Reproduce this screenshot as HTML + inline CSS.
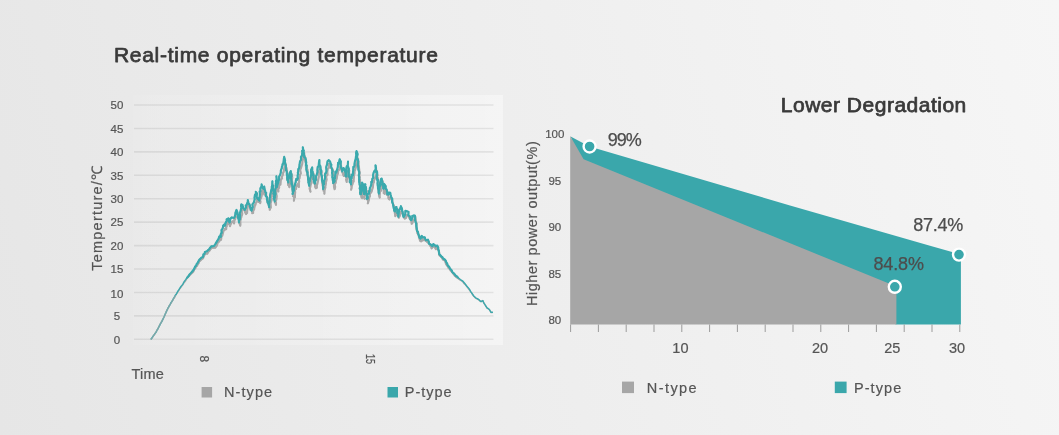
<!DOCTYPE html>
<html lang="en">
<head>
<meta charset="utf-8">
<title>Real-time operating temperature / Lower Degradation</title>
<style>
html,body{margin:0;padding:0;}
body{width:1059px;height:435px;overflow:hidden;background:linear-gradient(75deg,#e6e6e6 0%,#f6f6f6 100%);font-family:"Liberation Sans",sans-serif;}
svg{display:block;font-family:"Liberation Sans",sans-serif;}
.t{font-size:21px;fill:#3a3a3a;stroke:#3a3a3a;stroke-width:0.75px;stroke-linejoin:round;}
.ax{font-size:11.5px;fill:#555;stroke:#555;stroke-width:0.2px;}
.lb{font-size:14.5px;fill:#555;stroke:#555;stroke-width:0.2px;}
.val{font-size:18px;fill:#4d4d4d;stroke:#4d4d4d;stroke-width:0.25px;}
</style>
</head>
<body>
<svg width="1059" height="435" viewBox="0 0 1059 435">
<defs>
<linearGradient id="pb" x1="0" x2="1" y1="0" y2="0">
<stop offset="0" stop-color="#ffffff" stop-opacity="0.06"/>
<stop offset="0.5" stop-color="#ffffff" stop-opacity="0.22"/>
<stop offset="1" stop-color="#ffffff" stop-opacity="0.4"/>
</linearGradient>
</defs>
<!-- left chart -->
<rect x="133" y="95" width="370" height="250" fill="url(#pb)"/>
<text class="t" x="113.9" y="62.4" textLength="324" lengthAdjust="spacing">Real-time operating temperature</text>
<g stroke="#000000" stroke-opacity="0.075" stroke-width="1.6"><line x1="134" x2="493.5" y1="105.0" y2="105.0"/><line x1="134" x2="493.5" y1="128.43" y2="128.43"/><line x1="134" x2="493.5" y1="151.86" y2="151.86"/><line x1="134" x2="493.5" y1="175.29" y2="175.29"/><line x1="134" x2="493.5" y1="198.72" y2="198.72"/><line x1="134" x2="493.5" y1="222.15" y2="222.15"/><line x1="134" x2="493.5" y1="245.57999999999998" y2="245.57999999999998"/><line x1="134" x2="493.5" y1="269.01" y2="269.01"/><line x1="134" x2="493.5" y1="292.44" y2="292.44"/><line x1="134" x2="493.5" y1="315.87" y2="315.87"/><line x1="134" x2="493.5" y1="339.3" y2="339.3"/></g>
<g class="ax"><text x="117" y="109.2" text-anchor="middle">50</text><text x="117" y="132.6" text-anchor="middle">45</text><text x="117" y="156.1" text-anchor="middle">40</text><text x="117" y="179.5" text-anchor="middle">35</text><text x="117" y="202.9" text-anchor="middle">30</text><text x="117" y="226.3" text-anchor="middle">25</text><text x="117" y="249.8" text-anchor="middle">20</text><text x="117" y="273.2" text-anchor="middle">15</text><text x="117" y="298.1" text-anchor="middle">10</text><text x="117" y="320.1" text-anchor="middle">5</text><text x="117" y="343.5" text-anchor="middle">0</text></g>
<text class="lb" transform="translate(102.3,270.7) rotate(-90)" textLength="104.7" lengthAdjust="spacing">Temperture/℃</text>
<g fill="none" stroke-linejoin="round" stroke-linecap="round">
<polyline stroke="#a9a9a9" stroke-width="1.4" points="151.2,339.0 152.1,337.8 152.9,336.6 153.7,335.3 154.7,334.3 155.4,332.8 156.1,331.8 157.0,330.1 157.7,329.3 158.4,327.9 159.0,326.3 159.8,325.0 160.5,323.7 161.2,322.4 161.9,321.1 162.7,319.6 163.4,318.2 164.1,316.6 164.8,315.6 165.4,314.1 165.9,312.6 166.5,311.1 167.2,310.0 167.8,308.6 168.5,307.5 169.2,305.8 170.2,304.5 171.1,303.0 171.8,301.7 172.8,300.1 173.5,298.7 174.5,297.5 175.3,295.8 176.1,294.4 177.1,293.0 177.9,291.7 178.7,290.5 179.6,289.2 180.5,287.8 181.4,286.5 182.3,285.5 183.1,284.3 183.9,282.8 184.9,281.7 185.6,280.8 186.5,279.1 187.5,278.0 188.2,276.6 189.1,275.9 190.0,274.9 191.0,273.8 192.4,272.4 193.4,271.4 194.1,269.3 195.3,268.5 195.9,266.4 196.9,266.0 197.5,264.8 198.6,263.1 199.2,261.2 199.8,261.1 201.4,259.5 202.9,258.5 203.8,256.3 204.3,255.5 204.9,253.3 207.2,253.8 208.4,251.7 209.7,250.5 210.1,249.6 211.4,248.2 212.1,247.7 214.4,247.7 215.1,247.8 216.5,246.1 217.2,244.6 217.7,242.1 218.3,242.4 219.5,241.0 219.7,238.7 221.0,239.9 221.2,238.9 221.4,236.4 222.3,235.7 222.7,233.7 223.1,232.7 223.4,230.9 224.6,230.1 224.8,228.7 226.2,229.1 226.3,227.1 226.7,226.2 226.5,224.8 227.8,224.0 227.9,221.2 229.2,222.5 229.6,224.8 230.0,226.2 230.6,224.4 231.8,221.9 232.7,221.3 234.1,223.4 234.4,219.2 235.1,219.6 235.7,216.5 237.4,216.3 237.7,215.4 238.0,216.1 238.3,216.8 239.3,219.7 239.7,219.7 239.6,221.0 239.4,223.1 240.3,225.7 240.4,224.5 240.3,220.7 240.7,219.5 240.7,218.4 241.4,217.1 241.3,216.7 242.3,214.0 241.6,211.1 242.8,209.6 242.9,209.7 242.8,208.8 243.0,208.1 243.9,209.0 244.9,211.0 244.8,211.6 246.1,214.1 246.5,213.4 247.1,213.0 247.3,209.3 247.5,207.9 247.4,207.3 248.7,204.9 248.6,204.0 249.7,206.0 250.1,208.2 250.4,209.8 251.7,209.1 252.4,212.6 252.2,213.2 253.1,213.0 253.2,210.4 254.1,209.5 254.5,206.8 254.7,204.7 255.2,205.4 255.7,203.8 255.6,202.9 256.9,201.6 256.8,199.6 257.0,198.5 258.0,198.1 257.6,199.7 258.6,202.0 259.2,201.3 260.2,203.1 260.5,201.8 260.2,202.1 260.2,198.4 260.8,198.6 261.4,196.9 261.8,194.8 262.2,192.2 261.7,192.1 262.1,191.3 262.9,189.3 263.5,190.8 263.4,191.6 264.4,194.6 264.7,193.0 266.0,193.4 266.0,193.9 266.4,196.3 266.9,196.5 267.7,199.7 267.5,202.3 268.1,203.0 268.7,203.4 269.0,206.2 270.0,209.4 269.7,209.7 269.8,207.9 270.8,207.7 270.6,204.3 270.5,203.5 271.5,200.4 271.6,198.4 271.2,197.4 271.9,196.2 271.8,195.7 271.8,194.6 272.0,192.4 272.4,190.0 273.0,189.3 273.0,187.8 273.4,185.5 273.3,188.4 273.9,189.6 274.3,191.3 274.5,191.6 274.6,194.8 275.0,194.7 274.5,198.2 274.6,200.1 275.5,199.0 274.9,202.5 275.1,202.1 276.0,204.8 276.0,202.3 275.7,202.4 275.4,199.4 276.3,200.0 276.7,195.9 276.3,196.4 276.4,194.5 276.2,191.1 276.2,189.5 276.8,189.5 277.0,186.9 276.7,185.6 277.5,186.6 277.7,182.3 276.9,183.5 277.5,184.6 277.5,185.3 277.9,186.9 278.2,187.3 278.4,191.5 278.2,189.0 279.2,187.6 279.0,185.5 279.6,183.6 280.4,184.6 280.5,183.3 280.7,180.4 281.2,179.1 282.1,178.5 281.7,177.2 282.7,175.1 283.2,172.4 283.6,172.2 283.9,170.4 284.5,167.8 284.9,165.2 285.0,164.8 285.1,162.8 286.0,165.3 285.8,168.0 286.5,167.9 286.8,170.3 286.8,171.2 287.5,173.4 287.3,175.2 287.8,174.4 287.6,178.1 287.3,178.5 287.4,179.5 288.0,180.8 288.1,185.0 288.7,185.3 289.4,187.2 289.8,185.8 289.9,182.5 290.1,183.1 289.8,182.1 290.4,179.1 290.9,177.7 291.8,174.8 292.3,177.6 292.0,179.7 292.0,180.4 292.4,182.9 292.2,185.0 292.3,184.4 292.4,186.1 292.5,189.8 292.9,191.7 293.4,190.6 293.8,194.8 293.0,196.2 293.5,196.4 294.3,197.1 293.9,200.7 294.4,197.7 295.0,197.2 294.9,193.4 295.2,192.9 295.0,190.0 295.7,188.8 296.0,189.1 296.4,186.4 296.9,185.4 297.5,184.3 298.9,187.0 298.8,183.3 298.3,183.9 299.2,181.6 298.9,179.1 299.5,178.5 299.6,177.3 300.1,174.3 299.8,175.2 300.8,173.4 300.1,169.3 300.6,168.9 301.4,166.6 301.7,165.2 301.5,165.8 302.3,163.9 302.4,161.7 302.4,159.6 303.3,159.5 302.9,155.7 304.0,155.8 304.3,153.0 304.2,154.8 305.0,156.8 305.2,160.4 305.2,160.7 306.0,163.5 306.0,163.4 305.9,166.7 306.1,165.7 306.9,168.4 307.3,169.4 307.6,170.2 307.2,173.5 307.2,174.0 308.2,176.8 307.9,176.7 308.2,180.1 308.4,179.9 309.0,182.9 309.5,185.6 309.7,185.6 309.9,186.7 309.6,188.6 310.5,191.7 309.9,188.6 310.3,187.1 310.5,185.7 310.5,184.8 311.4,183.3 311.7,181.9 311.2,180.9 312.3,177.7 311.7,176.8 312.5,175.3 313.3,173.9 313.5,173.6 313.7,177.3 313.5,176.5 314.5,180.8 314.0,181.6 314.4,183.7 315.2,183.8 315.1,186.8 315.8,188.2 316.0,188.2 316.9,187.6 316.7,185.6 317.2,184.6 317.7,182.1 317.9,181.3 318.2,180.1 318.4,178.8 318.8,176.5 318.6,175.2 319.1,172.7 319.1,170.2 319.8,171.2 319.7,167.0 319.9,166.1 320.3,169.5 320.4,169.1 320.7,171.8 321.8,172.0 321.2,174.4 322.0,177.3 321.5,176.3 321.9,178.2 322.1,181.3 322.7,181.3 322.4,183.0 322.7,185.9 323.1,186.7 323.9,187.9 323.5,190.6 324.5,190.4 324.4,193.7 324.5,190.0 324.3,190.8 325.4,187.6 325.3,186.6 325.3,186.6 326.0,182.8 325.5,182.1 326.1,181.7 326.6,179.6 326.2,176.8 326.6,175.6 327.4,175.0 327.5,174.7 327.3,171.6 327.5,170.7 327.6,169.1 329.2,167.3 328.9,163.8 330.3,165.1 330.8,168.0 332.7,169.4 332.8,170.1 332.9,172.1 333.2,172.7 333.3,174.7 333.2,177.3 332.9,179.8 333.3,179.7 333.3,181.2 333.9,184.0 334.0,185.4 333.9,186.0 334.6,189.3 335.2,186.9 334.6,184.6 335.7,182.8 335.8,182.0 335.5,182.3 336.7,178.4 336.9,177.2 337.0,176.5 337.3,174.4 337.9,173.8 338.2,170.7 339.3,169.5 339.9,168.9 340.2,166.8 340.7,164.6 340.4,163.3 341.3,166.8 341.0,167.5 342.1,169.7 341.5,170.2 342.0,171.6 342.7,173.1 343.7,176.0 343.6,175.0 344.3,174.0 344.9,172.1 345.2,172.5 345.6,176.1 346.5,177.8 346.5,178.7 346.1,179.4 346.7,182.0 346.6,179.6 347.3,179.4 347.8,177.3 347.2,176.3 348.3,174.1 347.9,172.5 347.8,171.7 349.0,169.6 348.9,169.2 348.6,171.2 349.3,170.6 349.0,172.4 349.8,175.5 349.7,177.8 349.9,177.9 349.8,181.0 350.0,182.4 350.6,182.9 350.9,183.5 351.5,187.2 351.6,187.5 351.1,189.7 351.5,188.5 351.7,186.1 352.7,183.5 352.6,181.8 352.3,180.7 353.6,181.6 353.6,178.2 353.9,178.1 353.9,176.2 354.6,172.9 354.3,173.0 354.5,171.4 355.3,169.4 355.5,168.4 355.9,166.9 356.3,164.3 356.6,162.9 357.2,162.6 357.0,160.5 357.6,159.9 358.1,158.6 358.0,160.8 358.6,161.9 358.3,162.0 358.7,165.0 358.8,165.3 358.9,168.0 358.9,166.9 359.4,171.0 359.6,171.6 359.7,172.2 359.7,173.0 359.3,175.7 359.8,177.1 359.4,179.6 360.1,179.8 359.9,181.9 360.0,182.4 360.8,186.8 360.7,188.1 360.5,189.5 360.4,190.7 361.0,192.7 360.6,193.8 360.8,194.5 361.9,194.2 361.3,196.6 361.5,197.3 362.3,198.2 361.9,195.3 362.3,192.9 361.9,194.1 362.4,191.4 363.4,191.6 363.1,187.9 363.2,188.9 364.1,188.2 364.2,190.3 364.1,191.4 364.8,195.6 364.2,196.2 364.5,198.7 364.5,194.8 365.4,193.9 365.8,194.1 365.7,190.3 366.0,191.3 366.0,187.2 366.0,189.6 366.8,191.0 366.4,192.8 367.2,196.2 367.1,197.3 367.8,198.6 367.3,199.2 368.3,201.9 367.8,203.3 368.0,202.8 368.8,199.9 369.3,196.8 369.8,196.3 369.8,196.6 370.0,193.7 371.4,192.0 371.5,191.4 371.7,191.1 372.9,187.0 372.6,187.8 372.9,186.9 373.3,182.9 373.8,182.6 373.9,181.0 374.7,178.9 375.0,178.4 375.7,176.0 376.4,173.4 376.7,172.0 376.9,170.8 377.0,174.0 377.6,175.6 377.2,176.2 377.4,178.1 377.9,178.0 378.2,181.7 378.4,183.7 378.1,183.1 378.1,185.6 378.7,186.9 378.6,189.4 378.5,191.2 379.2,191.6 379.6,192.1 379.0,193.9 379.0,195.4 379.7,197.6 379.6,196.2 379.6,195.3 380.0,191.9 380.2,191.7 381.2,190.4 380.6,187.8 381.2,185.7 382.2,183.7 381.9,184.5 382.7,181.2 382.5,184.8 382.4,185.0 383.7,186.4 383.5,188.3 383.8,189.0 383.7,193.2 384.8,193.8 384.6,190.5 385.5,188.7 386.4,191.8 386.7,191.6 387.8,194.0 387.2,195.0 388.3,195.2 388.5,198.5 389.5,199.5 390.2,197.6 390.4,197.3 391.1,198.2 391.6,197.9 391.9,200.0 392.2,200.3 392.6,202.5 393.0,203.9 394.1,206.3 394.4,206.5 394.2,207.8 394.9,210.4 394.7,210.7 394.8,212.8 395.3,216.2 395.8,215.5 395.7,213.7 396.7,212.9 396.8,212.5 397.9,209.4 397.5,211.8 397.5,214.6 398.1,215.5 398.7,214.7 398.8,216.7 398.8,217.8 399.8,215.7 399.9,215.2 400.5,212.6 401.3,211.2 402.0,210.6 401.8,210.7 402.5,213.8 403.1,214.3 404.1,215.5 404.0,217.5 404.5,218.3 404.8,218.7 406.0,217.9 407.0,215.0 408.7,215.8 408.8,216.7 409.9,219.1 410.7,218.6 411.1,219.8 411.5,222.2 411.7,223.8 412.5,222.9 413.0,220.6 413.7,220.3 414.3,219.7 415.2,216.8 415.6,219.5 415.7,221.7 416.5,223.3 416.7,223.3 416.5,225.7 416.3,227.2 416.4,228.9 417.2,230.3 417.3,231.2 417.3,233.0 418.8,235.1 418.9,236.9 419.3,238.1 420.1,240.8 421.1,241.4 422.1,240.7 422.5,239.1 423.5,240.1 424.9,240.1 426.1,240.8 426.8,241.7 428.2,242.6 428.9,243.5 430.0,244.2 430.0,245.5 431.2,246.7 431.6,248.4 432.8,246.7 433.9,246.3 434.9,247.5 435.9,249.1 437.2,247.5 437.8,247.9 438.2,249.4 438.9,251.2 439.3,252.9 439.0,254.0 439.4,255.3 441.0,256.3 441.9,257.8 442.3,258.5 442.9,259.5 444.9,260.6 445.4,261.9 446.1,264.2 446.8,265.2 448.0,266.5 448.7,268.3 449.8,268.7 450.5,270.4 451.7,271.6 452.6,272.8 453.6,274.0 454.6,275.4 455.8,276.6 456.8,277.3 458.0,278.4 459.1,279.5 460.2,280.2 461.7,281.0 462.9,281.9 464.0,283.6 465.1,284.3 466.0,285.6 467.0,286.8 468.1,288.3 468.9,289.4 469.8,290.3 470.6,291.9 471.6,292.8 472.2,293.9 473.0,295.3 473.8,296.3 475.0,297.6 476.0,298.3 477.4,299.2 478.8,299.8 479.9,300.9 481.1,301.7 482.7,300.9 483.5,302.2 484.1,303.3 484.8,304.5 485.6,305.8 486.4,307.0 487.1,308.2 488.3,308.8 489.4,309.5 490.3,311.1 490.9,312.5 492.4,312.5"/>
<polyline stroke="#a9a9a9" stroke-width="2.1" points="188.2,276.6 189.1,275.9 190.0,274.9 191.0,273.8 192.4,272.4 193.4,271.4 194.1,269.3 195.3,268.5 195.9,266.4 196.9,266.0 197.5,264.8 198.6,263.1 199.2,261.2 199.8,261.1 201.4,259.5 202.9,258.5 203.8,256.3 204.3,255.5 204.9,253.3 207.2,253.8 208.4,251.7 209.7,250.5 210.1,249.6 211.4,248.2 212.1,247.7 214.4,247.7 215.1,247.8 216.5,246.1 217.2,244.6 217.7,242.1 218.3,242.4 219.5,241.0 219.7,238.7 221.0,239.9 221.2,238.9 221.4,236.4 222.3,235.7 222.7,233.7 223.1,232.7 223.4,230.9 224.6,230.1 224.8,228.7 226.2,229.1 226.3,227.1 226.7,226.2 226.5,224.8 227.8,224.0 227.9,221.2 229.2,222.5 229.6,224.8 230.0,226.2 230.6,224.4 231.8,221.9 232.7,221.3 234.1,223.4 234.4,219.2 235.1,219.6 235.7,216.5 237.4,216.3 237.7,215.4 238.0,216.1 238.3,216.8 239.3,219.7 239.7,219.7 239.6,221.0 239.4,223.1 240.3,225.7 240.4,224.5 240.3,220.7 240.7,219.5 240.7,218.4 241.4,217.1 241.3,216.7 242.3,214.0 241.6,211.1 242.8,209.6 242.9,209.7 242.8,208.8 243.0,208.1 243.9,209.0 244.9,211.0 244.8,211.6 246.1,214.1 246.5,213.4 247.1,213.0 247.3,209.3 247.5,207.9 247.4,207.3 248.7,204.9 248.6,204.0 249.7,206.0 250.1,208.2 250.4,209.8 251.7,209.1 252.4,212.6 252.2,213.2 253.1,213.0 253.2,210.4 254.1,209.5 254.5,206.8 254.7,204.7 255.2,205.4 255.7,203.8 255.6,202.9 256.9,201.6 256.8,199.6 257.0,198.5 258.0,198.1 257.6,199.7 258.6,202.0 259.2,201.3 260.2,203.1 260.5,201.8 260.2,202.1 260.2,198.4 260.8,198.6 261.4,196.9 261.8,194.8 262.2,192.2 261.7,192.1 262.1,191.3 262.9,189.3 263.5,190.8 263.4,191.6 264.4,194.6 264.7,193.0 266.0,193.4 266.0,193.9 266.4,196.3 266.9,196.5 267.7,199.7 267.5,202.3 268.1,203.0 268.7,203.4 269.0,206.2 270.0,209.4 269.7,209.7 269.8,207.9 270.8,207.7 270.6,204.3 270.5,203.5 271.5,200.4 271.6,198.4 271.2,197.4 271.9,196.2 271.8,195.7 271.8,194.6 272.0,192.4 272.4,190.0 273.0,189.3 273.0,187.8 273.4,185.5 273.3,188.4 273.9,189.6 274.3,191.3 274.5,191.6 274.6,194.8 275.0,194.7 274.5,198.2 274.6,200.1 275.5,199.0 274.9,202.5 275.1,202.1 276.0,204.8 276.0,202.3 275.7,202.4 275.4,199.4 276.3,200.0 276.7,195.9 276.3,196.4 276.4,194.5 276.2,191.1 276.2,189.5 276.8,189.5 277.0,186.9 276.7,185.6 277.5,186.6 277.7,182.3 276.9,183.5 277.5,184.6 277.5,185.3 277.9,186.9 278.2,187.3 278.4,191.5 278.2,189.0 279.2,187.6 279.0,185.5 279.6,183.6 280.4,184.6 280.5,183.3 280.7,180.4 281.2,179.1 282.1,178.5 281.7,177.2 282.7,175.1 283.2,172.4 283.6,172.2 283.9,170.4 284.5,167.8 284.9,165.2 285.0,164.8 285.1,162.8 286.0,165.3 285.8,168.0 286.5,167.9 286.8,170.3 286.8,171.2 287.5,173.4 287.3,175.2 287.8,174.4 287.6,178.1 287.3,178.5 287.4,179.5 288.0,180.8 288.1,185.0 288.7,185.3 289.4,187.2 289.8,185.8 289.9,182.5 290.1,183.1 289.8,182.1 290.4,179.1 290.9,177.7 291.8,174.8 292.3,177.6 292.0,179.7 292.0,180.4 292.4,182.9 292.2,185.0 292.3,184.4 292.4,186.1 292.5,189.8 292.9,191.7 293.4,190.6 293.8,194.8 293.0,196.2 293.5,196.4 294.3,197.1 293.9,200.7 294.4,197.7 295.0,197.2 294.9,193.4 295.2,192.9 295.0,190.0 295.7,188.8 296.0,189.1 296.4,186.4 296.9,185.4 297.5,184.3 298.9,187.0 298.8,183.3 298.3,183.9 299.2,181.6 298.9,179.1 299.5,178.5 299.6,177.3 300.1,174.3 299.8,175.2 300.8,173.4 300.1,169.3 300.6,168.9 301.4,166.6 301.7,165.2 301.5,165.8 302.3,163.9 302.4,161.7 302.4,159.6 303.3,159.5 302.9,155.7 304.0,155.8 304.3,153.0 304.2,154.8 305.0,156.8 305.2,160.4 305.2,160.7 306.0,163.5 306.0,163.4 305.9,166.7 306.1,165.7 306.9,168.4 307.3,169.4 307.6,170.2 307.2,173.5 307.2,174.0 308.2,176.8 307.9,176.7 308.2,180.1 308.4,179.9 309.0,182.9 309.5,185.6 309.7,185.6 309.9,186.7 309.6,188.6 310.5,191.7 309.9,188.6 310.3,187.1 310.5,185.7 310.5,184.8 311.4,183.3 311.7,181.9 311.2,180.9 312.3,177.7 311.7,176.8 312.5,175.3 313.3,173.9 313.5,173.6 313.7,177.3 313.5,176.5 314.5,180.8 314.0,181.6 314.4,183.7 315.2,183.8 315.1,186.8 315.8,188.2 316.0,188.2 316.9,187.6 316.7,185.6 317.2,184.6 317.7,182.1 317.9,181.3 318.2,180.1 318.4,178.8 318.8,176.5 318.6,175.2 319.1,172.7 319.1,170.2 319.8,171.2 319.7,167.0 319.9,166.1 320.3,169.5 320.4,169.1 320.7,171.8 321.8,172.0 321.2,174.4 322.0,177.3 321.5,176.3 321.9,178.2 322.1,181.3 322.7,181.3 322.4,183.0 322.7,185.9 323.1,186.7 323.9,187.9 323.5,190.6 324.5,190.4 324.4,193.7 324.5,190.0 324.3,190.8 325.4,187.6 325.3,186.6 325.3,186.6 326.0,182.8 325.5,182.1 326.1,181.7 326.6,179.6 326.2,176.8 326.6,175.6 327.4,175.0 327.5,174.7 327.3,171.6 327.5,170.7 327.6,169.1 329.2,167.3 328.9,163.8 330.3,165.1 330.8,168.0 332.7,169.4 332.8,170.1 332.9,172.1 333.2,172.7 333.3,174.7 333.2,177.3 332.9,179.8 333.3,179.7 333.3,181.2 333.9,184.0 334.0,185.4 333.9,186.0 334.6,189.3 335.2,186.9 334.6,184.6 335.7,182.8 335.8,182.0 335.5,182.3 336.7,178.4 336.9,177.2 337.0,176.5 337.3,174.4 337.9,173.8 338.2,170.7 339.3,169.5 339.9,168.9 340.2,166.8 340.7,164.6 340.4,163.3 341.3,166.8 341.0,167.5 342.1,169.7 341.5,170.2 342.0,171.6 342.7,173.1 343.7,176.0 343.6,175.0 344.3,174.0 344.9,172.1 345.2,172.5 345.6,176.1 346.5,177.8 346.5,178.7 346.1,179.4 346.7,182.0 346.6,179.6 347.3,179.4 347.8,177.3 347.2,176.3 348.3,174.1 347.9,172.5 347.8,171.7 349.0,169.6 348.9,169.2 348.6,171.2 349.3,170.6 349.0,172.4 349.8,175.5 349.7,177.8 349.9,177.9 349.8,181.0 350.0,182.4 350.6,182.9 350.9,183.5 351.5,187.2 351.6,187.5 351.1,189.7 351.5,188.5 351.7,186.1 352.7,183.5 352.6,181.8 352.3,180.7 353.6,181.6 353.6,178.2 353.9,178.1 353.9,176.2 354.6,172.9 354.3,173.0 354.5,171.4 355.3,169.4 355.5,168.4 355.9,166.9 356.3,164.3 356.6,162.9 357.2,162.6 357.0,160.5 357.6,159.9 358.1,158.6 358.0,160.8 358.6,161.9 358.3,162.0 358.7,165.0 358.8,165.3 358.9,168.0 358.9,166.9 359.4,171.0 359.6,171.6 359.7,172.2 359.7,173.0 359.3,175.7 359.8,177.1 359.4,179.6 360.1,179.8 359.9,181.9 360.0,182.4 360.8,186.8 360.7,188.1 360.5,189.5 360.4,190.7 361.0,192.7 360.6,193.8 360.8,194.5 361.9,194.2 361.3,196.6 361.5,197.3 362.3,198.2 361.9,195.3 362.3,192.9 361.9,194.1 362.4,191.4 363.4,191.6 363.1,187.9 363.2,188.9 364.1,188.2 364.2,190.3 364.1,191.4 364.8,195.6 364.2,196.2 364.5,198.7 364.5,194.8 365.4,193.9 365.8,194.1 365.7,190.3 366.0,191.3 366.0,187.2 366.0,189.6 366.8,191.0 366.4,192.8 367.2,196.2 367.1,197.3 367.8,198.6 367.3,199.2 368.3,201.9 367.8,203.3 368.0,202.8 368.8,199.9 369.3,196.8 369.8,196.3 369.8,196.6 370.0,193.7 371.4,192.0 371.5,191.4 371.7,191.1 372.9,187.0 372.6,187.8 372.9,186.9 373.3,182.9 373.8,182.6 373.9,181.0 374.7,178.9 375.0,178.4 375.7,176.0 376.4,173.4 376.7,172.0 376.9,170.8 377.0,174.0 377.6,175.6 377.2,176.2 377.4,178.1 377.9,178.0 378.2,181.7 378.4,183.7 378.1,183.1 378.1,185.6 378.7,186.9 378.6,189.4 378.5,191.2 379.2,191.6 379.6,192.1 379.0,193.9 379.0,195.4 379.7,197.6 379.6,196.2 379.6,195.3 380.0,191.9 380.2,191.7 381.2,190.4 380.6,187.8 381.2,185.7 382.2,183.7 381.9,184.5 382.7,181.2 382.5,184.8 382.4,185.0 383.7,186.4 383.5,188.3 383.8,189.0 383.7,193.2 384.8,193.8 384.6,190.5 385.5,188.7 386.4,191.8 386.7,191.6 387.8,194.0 387.2,195.0 388.3,195.2 388.5,198.5 389.5,199.5 390.2,197.6 390.4,197.3 391.1,198.2 391.6,197.9 391.9,200.0 392.2,200.3 392.6,202.5 393.0,203.9 394.1,206.3 394.4,206.5 394.2,207.8 394.9,210.4 394.7,210.7 394.8,212.8 395.3,216.2 395.8,215.5 395.7,213.7 396.7,212.9 396.8,212.5 397.9,209.4 397.5,211.8 397.5,214.6 398.1,215.5 398.7,214.7 398.8,216.7 398.8,217.8 399.8,215.7 399.9,215.2 400.5,212.6 401.3,211.2 402.0,210.6 401.8,210.7 402.5,213.8 403.1,214.3 404.1,215.5 404.0,217.5 404.5,218.3 404.8,218.7 406.0,217.9 407.0,215.0 408.7,215.8 408.8,216.7 409.9,219.1 410.7,218.6 411.1,219.8 411.5,222.2 411.7,223.8 412.5,222.9 413.0,220.6 413.7,220.3 414.3,219.7 415.2,216.8 415.6,219.5 415.7,221.7 416.5,223.3 416.7,223.3 416.5,225.7 416.3,227.2 416.4,228.9 417.2,230.3 417.3,231.2 417.3,233.0 418.8,235.1 418.9,236.9 419.3,238.1 420.1,240.8 421.1,241.4 422.1,240.7 422.5,239.1 423.5,240.1 424.9,240.1 426.1,240.8 426.8,241.7 428.2,242.6 428.9,243.5 430.0,244.2 430.0,245.5 431.2,246.7 431.6,248.4 432.8,246.7 433.9,246.3 434.9,247.5 435.9,249.1 437.2,247.5 437.8,247.9 438.2,249.4 438.9,251.2 439.3,252.9 439.0,254.0 439.4,255.3 441.0,256.3 441.9,257.8 442.3,258.5 442.9,259.5 444.9,260.6 445.4,261.9 446.1,264.2 446.8,265.2 448.0,266.5 448.7,268.3 449.8,268.7 450.5,270.4 451.7,271.6 452.6,272.8 453.6,274.0 454.6,275.4 455.8,276.6 456.8,277.3"/>
<polyline stroke="#3aa9ad" stroke-width="1.4" points="151.2,339.0 152.0,337.8 152.9,336.4 153.7,335.5 154.6,334.0 155.6,332.9 156.3,331.6 157.0,330.2 157.7,329.2 158.4,327.9 159.1,326.3 159.8,325.2 160.5,323.6 161.3,322.3 162.0,321.1 162.7,319.6 163.4,318.2 164.1,316.8 164.8,315.1 165.3,313.8 166.0,312.5 166.6,311.1 167.2,309.8 167.8,308.5 168.4,307.3 169.3,305.8 170.2,304.4 171.0,302.6 171.9,301.5 172.8,299.9 173.6,298.3 174.5,297.0 175.3,295.3 176.3,294.3 177.0,292.8 177.9,291.1 178.8,289.9 179.7,288.3 180.6,287.0 181.4,285.9 182.3,284.9 183.1,283.6 184.0,281.9 184.9,280.6 185.7,279.6 186.6,278.2 187.3,277.5 188.3,276.3 189.3,274.8 190.1,273.9 191.0,272.9 192.2,271.5 193.5,270.0 194.2,268.7 195.0,266.8 196.2,265.5 196.8,263.7 197.6,263.0 198.2,261.7 199.3,259.8 200.1,259.0 201.6,257.6 203.1,256.8 203.4,254.4 204.4,254.2 204.9,251.9 207.1,251.2 208.0,250.1 209.1,249.4 210.0,247.9 211.2,246.3 212.0,246.4 213.9,246.0 215.1,244.6 215.6,243.6 216.8,241.6 217.4,240.6 218.4,239.1 219.1,237.0 219.4,236.3 220.8,236.9 220.6,234.6 221.2,233.1 221.7,232.9 221.5,230.0 222.3,229.2 223.0,227.2 223.1,225.8 224.3,224.4 224.9,225.8 225.3,224.2 226.1,222.0 225.6,222.5 226.7,221.0 226.6,219.4 228.4,218.3 229.0,221.6 229.6,222.5 230.0,220.6 230.6,218.4 231.6,217.4 233.3,217.8 234.0,217.9 234.7,216.8 235.4,214.2 235.4,212.9 236.5,209.9 237.4,212.1 237.5,214.7 238.1,214.6 238.0,217.6 238.5,219.1 238.6,219.2 239.0,222.4 238.9,220.8 239.9,219.2 240.1,215.5 240.1,216.2 239.8,213.0 240.3,212.1 240.7,210.3 241.4,207.4 241.0,206.2 241.3,204.4 242.5,205.0 242.1,205.3 242.8,206.1 243.4,208.4 244.3,208.9 244.7,210.0 245.0,209.3 246.0,207.4 245.7,205.5 246.4,205.3 247.2,203.1 247.7,202.3 247.8,200.0 248.4,202.5 248.9,204.0 249.5,204.3 250.2,207.1 250.5,207.9 251.5,210.7 252.4,207.6 252.7,207.1 252.4,204.5 252.6,203.9 253.7,202.8 254.3,200.8 254.7,199.2 254.5,197.7 254.9,195.0 256.0,193.2 255.8,191.9 257.0,193.4 256.6,196.6 257.1,198.0 258.4,199.6 259.3,200.6 259.4,197.4 259.6,197.1 259.8,194.3 260.0,194.9 259.6,191.5 260.4,191.5 260.4,188.2 260.8,187.9 261.6,185.9 261.6,184.4 262.0,185.9 262.2,187.6 263.5,188.8 264.2,186.5 264.7,189.7 265.1,190.5 265.4,192.4 266.2,192.8 265.8,196.2 267.0,197.3 266.9,199.6 267.2,200.1 267.7,202.7 268.3,203.4 269.2,207.2 269.0,204.8 269.3,203.5 269.7,200.1 269.6,197.8 270.1,197.1 270.0,195.3 270.3,194.8 270.4,193.9 271.0,191.3 271.2,190.4 271.8,188.2 271.7,187.1 272.3,184.7 272.4,184.8 272.4,181.2 272.3,184.1 272.9,186.3 273.3,185.8 272.8,187.3 273.0,190.1 273.9,192.1 273.4,193.7 273.7,194.1 274.3,194.8 273.8,198.6 274.2,198.9 274.7,201.5 274.2,198.9 274.8,197.7 274.7,196.4 275.5,194.2 275.2,191.8 275.1,191.7 275.0,190.7 275.9,186.9 276.1,186.1 276.0,185.7 275.7,183.9 276.2,182.8 275.9,181.1 276.7,179.4 276.4,176.3 276.6,178.7 276.9,181.3 276.9,181.7 277.2,184.6 276.9,187.1 277.7,183.6 278.4,182.3 278.1,182.6 278.7,180.7 279.1,178.9 279.1,176.6 279.2,176.6 280.3,174.5 280.8,172.3 280.8,170.7 281.8,168.1 281.8,167.0 282.5,165.6 282.5,164.2 283.2,163.8 283.5,162.3 283.8,159.0 284.2,156.9 285.1,160.4 284.8,160.6 285.3,163.9 285.9,165.7 285.9,165.5 285.8,167.1 286.1,169.7 286.0,170.3 286.7,171.2 286.9,175.1 287.3,175.4 287.2,177.6 287.5,180.4 287.8,180.2 288.3,182.4 288.3,181.4 288.1,180.0 289.1,177.6 289.3,175.9 289.5,174.5 289.8,172.9 290.8,171.1 290.9,174.3 291.4,173.6 291.4,176.7 290.8,177.6 291.2,178.5 291.6,182.5 291.5,184.0 292.0,183.5 292.4,186.3 292.6,188.2 292.5,188.7 292.8,191.8 293.0,192.0 293.0,193.6 292.5,193.9 292.8,192.7 293.1,191.9 293.9,190.4 293.9,189.1 294.1,186.9 294.9,185.2 294.7,185.2 295.7,182.2 295.7,181.2 296.3,178.8 296.8,180.2 297.8,178.5 297.7,177.1 297.6,175.6 298.0,174.1 297.8,172.4 298.2,172.0 298.3,169.1 299.0,168.5 299.5,165.9 299.5,165.3 299.4,165.3 300.0,161.5 300.6,160.4 301.1,159.6 300.9,157.0 301.7,155.9 302.0,154.7 302.4,152.4 302.1,150.8 303.0,150.2 302.8,147.2 303.5,151.3 303.8,150.4 303.5,152.4 304.0,153.9 304.3,157.3 305.4,157.8 305.9,160.2 305.9,163.0 306.3,162.1 305.9,165.2 306.7,165.3 306.3,169.0 306.3,169.4 306.8,171.8 307.6,172.1 307.6,175.3 307.9,176.5 308.2,177.6 308.0,178.8 308.6,181.1 308.3,181.9 309.0,184.7 309.2,185.7 309.2,183.5 309.6,181.7 309.6,182.2 310.0,178.9 309.8,179.5 310.4,178.1 311.0,175.2 311.3,174.3 311.0,171.5 311.1,169.9 312.2,167.4 312.3,168.9 312.2,171.9 312.7,171.7 312.9,175.2 313.6,175.1 313.5,179.6 313.7,180.2 314.3,182.2 314.8,183.6 315.1,183.3 315.1,181.4 316.0,179.8 315.5,180.6 315.9,178.7 316.1,175.9 316.5,175.3 317.1,173.2 317.5,172.2 317.4,169.9 317.7,166.9 318.5,166.6 318.8,163.8 318.9,162.8 319.4,160.0 319.4,162.9 319.4,164.7 320.4,166.1 320.6,168.3 320.4,169.2 321.4,170.7 321.0,171.6 321.0,173.3 321.9,176.5 322.0,178.8 321.9,180.2 322.1,180.3 322.7,183.1 323.0,183.4 323.1,184.7 323.5,187.6 323.1,189.1 323.2,185.3 324.0,184.4 324.1,183.8 323.8,182.7 324.3,180.3 324.6,179.7 325.2,176.9 324.8,175.4 325.3,173.3 325.3,173.7 326.0,172.8 326.5,171.1 326.2,167.3 326.4,166.4 326.9,164.9 327.1,164.0 327.6,161.0 328.8,160.2 328.9,160.4 330.1,161.6 330.8,164.1 331.4,164.7 331.1,166.5 332.0,168.9 332.4,171.5 332.6,171.0 332.0,172.6 332.5,175.1 332.3,177.2 332.6,178.1 332.9,181.0 333.3,181.1 333.2,183.1 334.0,182.3 334.6,181.2 334.2,177.9 335.0,178.3 335.0,176.9 335.4,173.9 335.4,171.6 336.3,172.6 336.9,169.9 337.2,169.5 337.8,167.0 337.9,165.1 338.1,162.7 339.1,163.5 339.4,160.5 339.7,159.2 340.4,160.8 340.9,161.7 340.5,164.4 340.9,167.0 341.7,169.0 341.9,168.2 342.3,171.4 342.6,169.0 343.2,169.2 343.6,168.1 344.2,169.1 345.1,171.8 345.1,171.1 345.7,172.7 345.5,176.1 345.7,176.2 346.5,176.5 346.1,173.4 346.2,171.1 346.4,171.9 346.4,168.2 346.7,166.3 347.3,166.7 347.8,164.9 348.0,161.6 347.7,166.0 347.8,165.8 348.4,167.6 348.7,168.7 348.6,172.9 348.7,174.3 348.9,176.2 349.6,176.8 349.2,176.8 350.1,178.6 349.7,182.0 350.6,181.4 351.0,184.3 350.6,181.7 350.9,182.7 351.1,178.8 351.2,177.4 351.7,178.2 351.7,174.6 352.8,175.4 353.2,171.8 352.9,172.3 353.3,170.1 353.4,166.8 353.7,167.4 354.5,165.6 354.5,164.1 354.7,162.3 355.4,159.7 355.5,160.0 356.0,156.1 356.5,156.4 356.1,153.3 356.5,151.1 357.5,153.7 357.6,154.4 356.9,158.0 357.9,159.9 358.0,160.1 358.2,160.4 358.1,163.0 357.8,165.0 358.1,166.3 358.3,167.3 358.4,169.7 359.2,172.2 359.2,173.6 358.7,175.6 358.8,174.8 359.2,178.2 359.1,179.5 359.2,182.1 359.4,182.3 359.6,185.0 360.2,185.6 359.9,187.3 359.6,188.3 360.6,190.8 360.0,192.5 360.4,194.3 360.6,193.7 360.9,194.1 361.0,192.5 361.4,189.6 361.2,188.5 361.5,186.6 362.0,186.7 362.2,183.3 362.1,182.6 362.7,183.7 362.5,185.8 362.9,186.7 363.4,190.9 363.6,192.2 364.1,194.2 364.4,191.6 364.3,189.1 364.7,188.2 364.5,188.1 364.6,184.6 365.4,184.3 364.9,184.4 365.4,186.1 366.1,188.4 365.8,190.7 366.2,192.4 366.5,194.6 366.5,194.6 367.3,197.8 366.6,198.6 367.7,198.6 367.4,194.2 368.3,193.8 369.1,193.6 368.9,191.1 369.6,191.1 369.8,188.1 370.3,187.2 370.6,186.6 371.4,184.1 371.3,181.7 372.0,182.0 372.4,178.6 373.2,178.0 373.1,174.9 373.2,175.1 373.6,172.6 374.6,170.6 375.2,170.7 375.7,168.7 375.5,165.4 376.0,167.7 376.0,170.8 376.2,172.3 377.1,171.9 377.3,174.3 376.8,175.4 376.8,177.9 377.4,180.5 377.9,179.8 377.6,182.2 377.5,183.3 377.7,186.0 377.9,185.9 378.0,188.4 378.4,189.4 378.7,190.9 378.8,193.6 378.5,192.3 379.0,190.1 379.4,188.7 379.5,185.4 380.1,186.0 380.1,183.7 380.1,183.2 380.8,179.8 381.2,180.4 381.0,179.0 381.6,178.5 382.1,180.7 382.5,183.2 382.2,184.5 383.2,185.8 383.2,188.3 383.4,188.7 384.0,187.8 384.1,183.9 385.7,186.1 385.6,188.8 386.6,189.4 387.2,191.9 387.4,191.7 387.2,194.2 388.3,194.6 388.8,193.7 389.3,192.6 390.3,192.8 390.5,194.4 391.0,196.3 391.2,196.8 391.6,198.3 392.3,198.9 392.1,201.7 392.7,203.5 393.0,204.1 393.7,208.2 394.3,208.4 394.0,208.6 394.2,210.7 395.0,211.5 395.3,211.0 395.1,208.9 396.0,207.1 396.5,207.0 396.4,207.6 397.5,210.5 397.5,212.1 397.2,213.0 398.2,213.2 398.3,216.7 398.5,214.3 398.8,212.3 399.3,210.0 400.0,209.1 400.9,206.2 401.4,207.6 402.0,208.7 402.2,211.2 402.6,211.5 402.9,214.9 403.5,217.0 404.4,216.1 405.3,214.1 405.4,210.7 407.6,211.5 408.5,211.7 408.4,215.6 409.5,216.0 410.2,216.7 410.6,219.8 411.3,220.1 411.4,220.0 412.6,217.4 412.3,215.9 413.9,215.4 414.5,215.9 414.9,215.7 415.2,216.8 415.1,220.5 415.2,220.3 415.7,222.6 416.2,223.5 416.3,225.7 416.6,227.4 416.8,228.7 416.8,230.6 418.0,232.0 418.3,233.8 418.7,235.4 419.6,237.6 420.8,238.6 420.9,236.8 421.7,235.9 423.0,237.5 424.7,237.2 425.4,239.2 426.0,240.4 427.9,239.6 428.8,241.6 428.9,243.6 429.9,244.2 430.7,244.5 431.9,245.8 432.5,246.1 433.3,244.0 434.5,244.8 435.8,246.4 436.3,245.8 437.3,245.6 438.3,247.8 438.2,249.3 438.7,250.5 438.9,251.8 439.1,253.8 440.8,255.7 441.4,256.8 442.2,256.8 443.1,258.5 445.0,259.7 445.7,260.6 446.4,262.6 447.2,263.4 447.7,265.5 449.0,266.6 449.8,268.1 450.6,269.3 451.6,270.2 452.4,272.2 453.5,273.1 454.6,274.2 455.7,275.6 456.9,276.4 457.8,277.4 458.9,278.3 460.4,279.5 461.6,280.3 462.9,281.2 464.0,282.5 465.1,283.8 466.0,285.0 466.9,286.3 468.0,287.4 469.0,288.6 469.8,289.9 470.6,291.3 471.5,292.6 472.2,293.8 473.0,294.8 473.8,296.0 474.9,297.0 476.0,298.1 477.4,298.6 478.8,299.6 479.9,300.7 480.9,301.6 482.9,300.5 483.5,302.2 484.1,303.4 484.9,304.5 485.5,305.5 486.4,306.8 487.1,308.0 488.4,308.6 489.4,309.7 490.2,311.0 491.1,312.4 492.4,312.3"/>
<polyline stroke="#3aa9ad" stroke-width="2.1" points="187.3,277.5 188.3,276.3 189.3,274.8 190.1,273.9 191.0,272.9 192.2,271.5 193.5,270.0 194.2,268.7 195.0,266.8 196.2,265.5 196.8,263.7 197.6,263.0 198.2,261.7 199.3,259.8 200.1,259.0 201.6,257.6 203.1,256.8 203.4,254.4 204.4,254.2 204.9,251.9 207.1,251.2 208.0,250.1 209.1,249.4 210.0,247.9 211.2,246.3 212.0,246.4 213.9,246.0 215.1,244.6 215.6,243.6 216.8,241.6 217.4,240.6 218.4,239.1 219.1,237.0 219.4,236.3 220.8,236.9 220.6,234.6 221.2,233.1 221.7,232.9 221.5,230.0 222.3,229.2 223.0,227.2 223.1,225.8 224.3,224.4 224.9,225.8 225.3,224.2 226.1,222.0 225.6,222.5 226.7,221.0 226.6,219.4 228.4,218.3 229.0,221.6 229.6,222.5 230.0,220.6 230.6,218.4 231.6,217.4 233.3,217.8 234.0,217.9 234.7,216.8 235.4,214.2 235.4,212.9 236.5,209.9 237.4,212.1 237.5,214.7 238.1,214.6 238.0,217.6 238.5,219.1 238.6,219.2 239.0,222.4 238.9,220.8 239.9,219.2 240.1,215.5 240.1,216.2 239.8,213.0 240.3,212.1 240.7,210.3 241.4,207.4 241.0,206.2 241.3,204.4 242.5,205.0 242.1,205.3 242.8,206.1 243.4,208.4 244.3,208.9 244.7,210.0 245.0,209.3 246.0,207.4 245.7,205.5 246.4,205.3 247.2,203.1 247.7,202.3 247.8,200.0 248.4,202.5 248.9,204.0 249.5,204.3 250.2,207.1 250.5,207.9 251.5,210.7 252.4,207.6 252.7,207.1 252.4,204.5 252.6,203.9 253.7,202.8 254.3,200.8 254.7,199.2 254.5,197.7 254.9,195.0 256.0,193.2 255.8,191.9 257.0,193.4 256.6,196.6 257.1,198.0 258.4,199.6 259.3,200.6 259.4,197.4 259.6,197.1 259.8,194.3 260.0,194.9 259.6,191.5 260.4,191.5 260.4,188.2 260.8,187.9 261.6,185.9 261.6,184.4 262.0,185.9 262.2,187.6 263.5,188.8 264.2,186.5 264.7,189.7 265.1,190.5 265.4,192.4 266.2,192.8 265.8,196.2 267.0,197.3 266.9,199.6 267.2,200.1 267.7,202.7 268.3,203.4 269.2,207.2 269.0,204.8 269.3,203.5 269.7,200.1 269.6,197.8 270.1,197.1 270.0,195.3 270.3,194.8 270.4,193.9 271.0,191.3 271.2,190.4 271.8,188.2 271.7,187.1 272.3,184.7 272.4,184.8 272.4,181.2 272.3,184.1 272.9,186.3 273.3,185.8 272.8,187.3 273.0,190.1 273.9,192.1 273.4,193.7 273.7,194.1 274.3,194.8 273.8,198.6 274.2,198.9 274.7,201.5 274.2,198.9 274.8,197.7 274.7,196.4 275.5,194.2 275.2,191.8 275.1,191.7 275.0,190.7 275.9,186.9 276.1,186.1 276.0,185.7 275.7,183.9 276.2,182.8 275.9,181.1 276.7,179.4 276.4,176.3 276.6,178.7 276.9,181.3 276.9,181.7 277.2,184.6 276.9,187.1 277.7,183.6 278.4,182.3 278.1,182.6 278.7,180.7 279.1,178.9 279.1,176.6 279.2,176.6 280.3,174.5 280.8,172.3 280.8,170.7 281.8,168.1 281.8,167.0 282.5,165.6 282.5,164.2 283.2,163.8 283.5,162.3 283.8,159.0 284.2,156.9 285.1,160.4 284.8,160.6 285.3,163.9 285.9,165.7 285.9,165.5 285.8,167.1 286.1,169.7 286.0,170.3 286.7,171.2 286.9,175.1 287.3,175.4 287.2,177.6 287.5,180.4 287.8,180.2 288.3,182.4 288.3,181.4 288.1,180.0 289.1,177.6 289.3,175.9 289.5,174.5 289.8,172.9 290.8,171.1 290.9,174.3 291.4,173.6 291.4,176.7 290.8,177.6 291.2,178.5 291.6,182.5 291.5,184.0 292.0,183.5 292.4,186.3 292.6,188.2 292.5,188.7 292.8,191.8 293.0,192.0 293.0,193.6 292.5,193.9 292.8,192.7 293.1,191.9 293.9,190.4 293.9,189.1 294.1,186.9 294.9,185.2 294.7,185.2 295.7,182.2 295.7,181.2 296.3,178.8 296.8,180.2 297.8,178.5 297.7,177.1 297.6,175.6 298.0,174.1 297.8,172.4 298.2,172.0 298.3,169.1 299.0,168.5 299.5,165.9 299.5,165.3 299.4,165.3 300.0,161.5 300.6,160.4 301.1,159.6 300.9,157.0 301.7,155.9 302.0,154.7 302.4,152.4 302.1,150.8 303.0,150.2 302.8,147.2 303.5,151.3 303.8,150.4 303.5,152.4 304.0,153.9 304.3,157.3 305.4,157.8 305.9,160.2 305.9,163.0 306.3,162.1 305.9,165.2 306.7,165.3 306.3,169.0 306.3,169.4 306.8,171.8 307.6,172.1 307.6,175.3 307.9,176.5 308.2,177.6 308.0,178.8 308.6,181.1 308.3,181.9 309.0,184.7 309.2,185.7 309.2,183.5 309.6,181.7 309.6,182.2 310.0,178.9 309.8,179.5 310.4,178.1 311.0,175.2 311.3,174.3 311.0,171.5 311.1,169.9 312.2,167.4 312.3,168.9 312.2,171.9 312.7,171.7 312.9,175.2 313.6,175.1 313.5,179.6 313.7,180.2 314.3,182.2 314.8,183.6 315.1,183.3 315.1,181.4 316.0,179.8 315.5,180.6 315.9,178.7 316.1,175.9 316.5,175.3 317.1,173.2 317.5,172.2 317.4,169.9 317.7,166.9 318.5,166.6 318.8,163.8 318.9,162.8 319.4,160.0 319.4,162.9 319.4,164.7 320.4,166.1 320.6,168.3 320.4,169.2 321.4,170.7 321.0,171.6 321.0,173.3 321.9,176.5 322.0,178.8 321.9,180.2 322.1,180.3 322.7,183.1 323.0,183.4 323.1,184.7 323.5,187.6 323.1,189.1 323.2,185.3 324.0,184.4 324.1,183.8 323.8,182.7 324.3,180.3 324.6,179.7 325.2,176.9 324.8,175.4 325.3,173.3 325.3,173.7 326.0,172.8 326.5,171.1 326.2,167.3 326.4,166.4 326.9,164.9 327.1,164.0 327.6,161.0 328.8,160.2 328.9,160.4 330.1,161.6 330.8,164.1 331.4,164.7 331.1,166.5 332.0,168.9 332.4,171.5 332.6,171.0 332.0,172.6 332.5,175.1 332.3,177.2 332.6,178.1 332.9,181.0 333.3,181.1 333.2,183.1 334.0,182.3 334.6,181.2 334.2,177.9 335.0,178.3 335.0,176.9 335.4,173.9 335.4,171.6 336.3,172.6 336.9,169.9 337.2,169.5 337.8,167.0 337.9,165.1 338.1,162.7 339.1,163.5 339.4,160.5 339.7,159.2 340.4,160.8 340.9,161.7 340.5,164.4 340.9,167.0 341.7,169.0 341.9,168.2 342.3,171.4 342.6,169.0 343.2,169.2 343.6,168.1 344.2,169.1 345.1,171.8 345.1,171.1 345.7,172.7 345.5,176.1 345.7,176.2 346.5,176.5 346.1,173.4 346.2,171.1 346.4,171.9 346.4,168.2 346.7,166.3 347.3,166.7 347.8,164.9 348.0,161.6 347.7,166.0 347.8,165.8 348.4,167.6 348.7,168.7 348.6,172.9 348.7,174.3 348.9,176.2 349.6,176.8 349.2,176.8 350.1,178.6 349.7,182.0 350.6,181.4 351.0,184.3 350.6,181.7 350.9,182.7 351.1,178.8 351.2,177.4 351.7,178.2 351.7,174.6 352.8,175.4 353.2,171.8 352.9,172.3 353.3,170.1 353.4,166.8 353.7,167.4 354.5,165.6 354.5,164.1 354.7,162.3 355.4,159.7 355.5,160.0 356.0,156.1 356.5,156.4 356.1,153.3 356.5,151.1 357.5,153.7 357.6,154.4 356.9,158.0 357.9,159.9 358.0,160.1 358.2,160.4 358.1,163.0 357.8,165.0 358.1,166.3 358.3,167.3 358.4,169.7 359.2,172.2 359.2,173.6 358.7,175.6 358.8,174.8 359.2,178.2 359.1,179.5 359.2,182.1 359.4,182.3 359.6,185.0 360.2,185.6 359.9,187.3 359.6,188.3 360.6,190.8 360.0,192.5 360.4,194.3 360.6,193.7 360.9,194.1 361.0,192.5 361.4,189.6 361.2,188.5 361.5,186.6 362.0,186.7 362.2,183.3 362.1,182.6 362.7,183.7 362.5,185.8 362.9,186.7 363.4,190.9 363.6,192.2 364.1,194.2 364.4,191.6 364.3,189.1 364.7,188.2 364.5,188.1 364.6,184.6 365.4,184.3 364.9,184.4 365.4,186.1 366.1,188.4 365.8,190.7 366.2,192.4 366.5,194.6 366.5,194.6 367.3,197.8 366.6,198.6 367.7,198.6 367.4,194.2 368.3,193.8 369.1,193.6 368.9,191.1 369.6,191.1 369.8,188.1 370.3,187.2 370.6,186.6 371.4,184.1 371.3,181.7 372.0,182.0 372.4,178.6 373.2,178.0 373.1,174.9 373.2,175.1 373.6,172.6 374.6,170.6 375.2,170.7 375.7,168.7 375.5,165.4 376.0,167.7 376.0,170.8 376.2,172.3 377.1,171.9 377.3,174.3 376.8,175.4 376.8,177.9 377.4,180.5 377.9,179.8 377.6,182.2 377.5,183.3 377.7,186.0 377.9,185.9 378.0,188.4 378.4,189.4 378.7,190.9 378.8,193.6 378.5,192.3 379.0,190.1 379.4,188.7 379.5,185.4 380.1,186.0 380.1,183.7 380.1,183.2 380.8,179.8 381.2,180.4 381.0,179.0 381.6,178.5 382.1,180.7 382.5,183.2 382.2,184.5 383.2,185.8 383.2,188.3 383.4,188.7 384.0,187.8 384.1,183.9 385.7,186.1 385.6,188.8 386.6,189.4 387.2,191.9 387.4,191.7 387.2,194.2 388.3,194.6 388.8,193.7 389.3,192.6 390.3,192.8 390.5,194.4 391.0,196.3 391.2,196.8 391.6,198.3 392.3,198.9 392.1,201.7 392.7,203.5 393.0,204.1 393.7,208.2 394.3,208.4 394.0,208.6 394.2,210.7 395.0,211.5 395.3,211.0 395.1,208.9 396.0,207.1 396.5,207.0 396.4,207.6 397.5,210.5 397.5,212.1 397.2,213.0 398.2,213.2 398.3,216.7 398.5,214.3 398.8,212.3 399.3,210.0 400.0,209.1 400.9,206.2 401.4,207.6 402.0,208.7 402.2,211.2 402.6,211.5 402.9,214.9 403.5,217.0 404.4,216.1 405.3,214.1 405.4,210.7 407.6,211.5 408.5,211.7 408.4,215.6 409.5,216.0 410.2,216.7 410.6,219.8 411.3,220.1 411.4,220.0 412.6,217.4 412.3,215.9 413.9,215.4 414.5,215.9 414.9,215.7 415.2,216.8 415.1,220.5 415.2,220.3 415.7,222.6 416.2,223.5 416.3,225.7 416.6,227.4 416.8,228.7 416.8,230.6 418.0,232.0 418.3,233.8 418.7,235.4 419.6,237.6 420.8,238.6 420.9,236.8 421.7,235.9 423.0,237.5 424.7,237.2 425.4,239.2 426.0,240.4 427.9,239.6 428.8,241.6 428.9,243.6 429.9,244.2 430.7,244.5 431.9,245.8 432.5,246.1 433.3,244.0 434.5,244.8 435.8,246.4 436.3,245.8 437.3,245.6 438.3,247.8 438.2,249.3 438.7,250.5 438.9,251.8 439.1,253.8 440.8,255.7 441.4,256.8 442.2,256.8 443.1,258.5 445.0,259.7 445.7,260.6 446.4,262.6 447.2,263.4 447.7,265.5 449.0,266.6 449.8,268.1 450.6,269.3 451.6,270.2 452.4,272.2 453.5,273.1 454.6,274.2 455.7,275.6 456.9,276.4 457.8,277.4"/>
<polyline stroke="#a9a9a9" stroke-width="1.4" stroke-opacity="0.55" points="151.2,339.0 152.1,337.8 152.9,336.6 153.7,335.3 154.7,334.3 155.4,332.8 156.1,331.8 157.0,330.1 157.7,329.3 158.4,327.9 159.0,326.3 159.8,325.0 160.5,323.7 161.2,322.4 161.9,321.1 162.7,319.6 163.4,318.2 164.1,316.6 164.8,315.6 165.4,314.1 165.9,312.6 166.5,311.1 167.2,310.0 167.8,308.6 168.5,307.5 169.2,305.8 170.2,304.5 171.1,303.0 171.8,301.7 172.8,300.1 173.5,298.7 174.5,297.5 175.3,295.8"/>
</g>
<text class="ax" transform="translate(200,355.6) rotate(90)" style="font-size:12px">8</text>
<text class="ax" transform="translate(365.8,353.9) rotate(90)" style="font-size:12px" textLength="10" lengthAdjust="spacingAndGlyphs">15</text>
<text class="lb" x="131.6" y="379.4" textLength="32.3" lengthAdjust="spacing">Time</text>
<rect x="201.6" y="387" width="10.5" height="10.5" fill="#a6a6a6"/>
<text class="lb" x="224" y="397" textLength="48.1" lengthAdjust="spacing">N-type</text>
<rect x="387.5" y="387" width="10.5" height="10.5" fill="#3aa7ab"/>
<text class="lb" x="404.8" y="397" textLength="46.7" lengthAdjust="spacing">P-type</text>
<!-- right chart -->
<text class="t" x="780.8" y="112" textLength="185.5" lengthAdjust="spacing">Lower Degradation</text>
<polygon fill="#3aa7ab" points="570.6,136.4 589.4,146.6 790,205.5 930,245.8 960.9,254.6 960.9,324.5 895.5,324.5 895.5,318 572,318 572,140"/>
<polygon fill="#a6a6a6" points="570.2,136 583.6,159.3 896.4,286.5 896.4,324.5 570.2,324.5"/>
<g stroke="#9b9b9b" stroke-width="1"><line x1="570.6" x2="570.6" y1="324.5" y2="332"/><line x1="598.4" x2="598.4" y1="324.5" y2="332"/><line x1="626.2" x2="626.2" y1="324.5" y2="332"/><line x1="654.0" x2="654.0" y1="324.5" y2="332"/><line x1="681.8" x2="681.8" y1="324.5" y2="332"/><line x1="709.6" x2="709.6" y1="324.5" y2="332"/><line x1="737.4" x2="737.4" y1="324.5" y2="332"/><line x1="765.2" x2="765.2" y1="324.5" y2="332"/><line x1="793.0" x2="793.0" y1="324.5" y2="332"/><line x1="820.8" x2="820.8" y1="324.5" y2="332"/><line x1="848.6" x2="848.6" y1="324.5" y2="332"/><line x1="876.4" x2="876.4" y1="324.5" y2="332"/><line x1="904.2" x2="904.2" y1="324.5" y2="332"/><line x1="932.0" x2="932.0" y1="324.5" y2="332"/><line x1="959.8" x2="959.8" y1="324.5" y2="332"/></g>
<g class="ax"><text x="554.8" y="138.4" text-anchor="middle">100</text><text x="554.8" y="184.8" text-anchor="middle">95</text><text x="554.8" y="231.3" text-anchor="middle">90</text><text x="554.8" y="277.6" text-anchor="middle">85</text><text x="554.8" y="323.9" text-anchor="middle">80</text></g>
<text class="lb" transform="translate(536.6,306.1) rotate(-90)" textLength="164.9" lengthAdjust="spacing">Higher power output(%)</text>
<text class="lb" x="680.4" y="353" text-anchor="middle">10</text>
<text class="lb" x="820" y="353" text-anchor="middle">20</text>
<text class="lb" x="892.2" y="353" text-anchor="middle">25</text>
<text class="lb" x="957.1" y="353" text-anchor="middle">30</text>
<circle cx="589.6" cy="146.5" r="6" fill="#3aa7ab" stroke="#ffffff" stroke-width="2.4"/>
<circle cx="894.8" cy="286.8" r="6" fill="#3aa7ab" stroke="#ffffff" stroke-width="2.4"/>
<circle cx="959" cy="254.6" r="6" fill="#3aa7ab" stroke="#ffffff" stroke-width="2.4"/>
<text class="val" x="607.8" y="145.7" textLength="34" lengthAdjust="spacing">99%</text>
<text class="val" x="913.3" y="231" textLength="49.9" lengthAdjust="spacing">87.4%</text>
<text class="val" x="873.5" y="270.2" textLength="50.5" lengthAdjust="spacing">84.8%</text>
<rect x="622" y="381.6" width="12" height="11.5" fill="#a6a6a6"/>
<text class="lb" x="646.8" y="392.8" textLength="49.9" lengthAdjust="spacing">N-type</text>
<rect x="834.8" y="381.6" width="11.8" height="11.5" fill="#3aa7ab"/>
<text class="lb" x="853.9" y="392.8" textLength="47.4" lengthAdjust="spacing">P-type</text>
</svg>
</body>
</html>
